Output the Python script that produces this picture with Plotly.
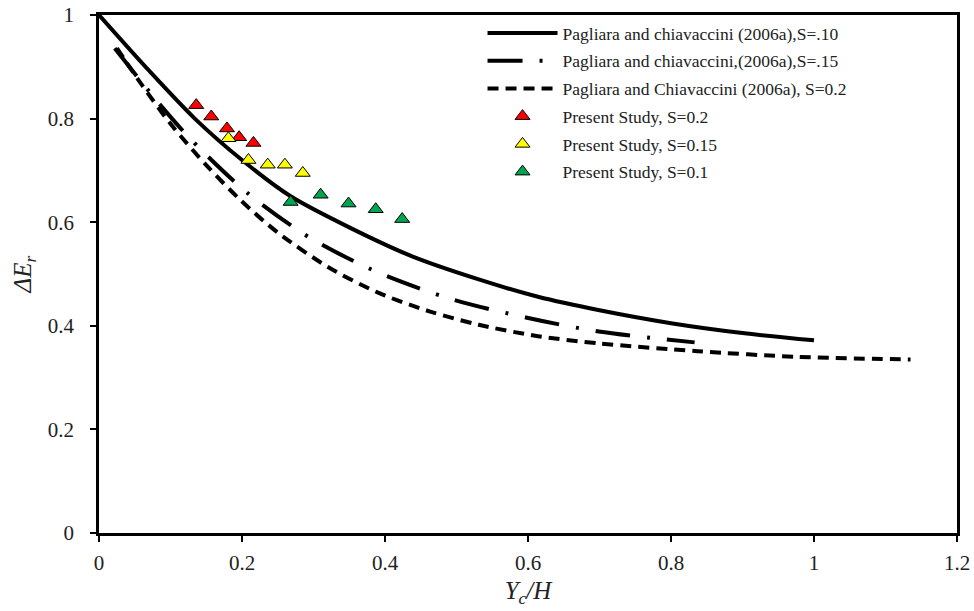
import plotly.graph_objects as go

# Pagliara and Chiavaccini (2006a) relative energy loss curves
pc_s010_x = [0.0, 0.067, 0.134, 0.200, 0.268, 0.350, 0.438, 0.530, 0.614, 0.700, 0.800, 0.900, 1.0]
pc_s010_y = [1.0, 0.897, 0.800, 0.720, 0.650, 0.590, 0.534, 0.490, 0.456, 0.430, 0.405, 0.386, 0.372]

pc_s015_x = [0.022, 0.078, 0.129, 0.208, 0.296, 0.392, 0.492, 0.597, 0.699, 0.833]
pc_s015_y = [0.936, 0.839, 0.759, 0.656, 0.569, 0.502, 0.452, 0.416, 0.389, 0.368]

pc_s020_x = [0.025, 0.060, 0.100, 0.150, 0.200, 0.250, 0.322, 0.392, 0.462, 0.531, 0.614, 0.699, 0.837, 0.976, 1.135]
pc_s020_y = [0.936, 0.865, 0.790, 0.710, 0.640, 0.580, 0.512, 0.463, 0.428, 0.402, 0.380, 0.366, 0.351, 0.340, 0.335]

# Present study measurements
ps_s02_x = [0.136, 0.157, 0.179, 0.196, 0.216]
ps_s02_y = [0.826, 0.804, 0.781, 0.764, 0.753]

ps_s015_x = [0.181, 0.209, 0.236, 0.260, 0.285]
ps_s015_y = [0.762, 0.720, 0.711, 0.711, 0.695]

ps_s01_x = [0.268, 0.310, 0.349, 0.387, 0.424]
ps_s01_y = [0.639, 0.653, 0.636, 0.625, 0.606]

x_ticks = [0, 0.2, 0.4, 0.6, 0.8, 1, 1.2]
y_ticks = [0, 0.2, 0.4, 0.6, 0.8, 1]

FONT = "Liberation Serif, 'Times New Roman', serif"

fig = go.Figure()

fig.add_trace(go.Scatter(
    x=pc_s010_x, y=pc_s010_y, mode="lines", line_shape="spline",
    line=dict(color="black", width=4, smoothing=0.8),
    name="Pagliara and chiavaccini (2006a),S=.10", legendgroup="a"))
fig.add_trace(go.Scatter(
    x=pc_s015_x, y=pc_s015_y, mode="lines", line_shape="spline",
    line=dict(color="black", width=4, dash="35px,17px,3px,17px", smoothing=0.8),
    name="Pagliara and chiavaccini,(2006a),S=.15", legendgroup="b"))
fig.add_trace(go.Scatter(
    x=pc_s020_x, y=pc_s020_y, mode="lines", line_shape="spline",
    line=dict(color="black", width=4, dash="11px,7px", smoothing=0.8),
    name="Pagliara and Chiavaccini (2006a), S=0.2", legendgroup="c"))

marker_line = dict(color="black", width=1)
fig.add_trace(go.Scatter(
    x=ps_s02_x, y=ps_s02_y, mode="markers",
    marker=dict(symbol="triangle-up", size=13, color="#FF0000", line=marker_line),
    name="Present Study, S=0.2", legendgroup="d"))
fig.add_trace(go.Scatter(
    x=ps_s015_x, y=ps_s015_y, mode="markers",
    marker=dict(symbol="triangle-up", size=13, color="#FFFF00", line=marker_line),
    name="Present Study, S=0.15", legendgroup="e"))
fig.add_trace(go.Scatter(
    x=ps_s01_x, y=ps_s01_y, mode="markers",
    marker=dict(symbol="triangle-up", size=13, color="#00A550", line=marker_line),
    name="Present Study, S=0.1", legendgroup="f"))

axis_common = dict(
    showline=True, linecolor="black", linewidth=2.5, mirror=True,
    ticks="outside", ticklen=6, tickwidth=2, tickcolor="black",
    showgrid=False, zeroline=False,
    tickfont=dict(family=FONT, size=21, color="#222"),
    automargin=False,
)

fig.update_xaxes(
    range=[0, 1.2], tickvals=x_ticks, ticktext=[f"{v:g}" for v in x_ticks],
    ticklabelstandoff=3,
    title=dict(text="<i>Y</i><sub><i>c</i></sub><i>/H</i>",
               font=dict(family=FONT, size=25, color="#222"), standoff=8),
    **axis_common)
fig.update_yaxes(
    range=[0, 1], tickvals=y_ticks, ticktext=[f"{v:g}" for v in y_ticks],
    ticklabelstandoff=12,
    title=dict(text="<i>ΔE</i><sub><i>r</i></sub>",
               font=dict(family=FONT, size=25, color="#222"), standoff=10),
    **axis_common)

fig.update_layout(
    width=974, height=611,
    margin=dict(l=99, r=17, t=15, b=78),
    paper_bgcolor="white", plot_bgcolor="white",
    showlegend=True,
    legend=dict(
        x=0.447, y=1.0, xanchor="left", yanchor="top",
        font=dict(family=FONT, size=17.5, color="#222"),
        bgcolor="rgba(0,0,0,0)", borderwidth=0,
        itemwidth=70, tracegroupgap=2, traceorder="grouped",
    ),
)

fig.write_html("out.html")
